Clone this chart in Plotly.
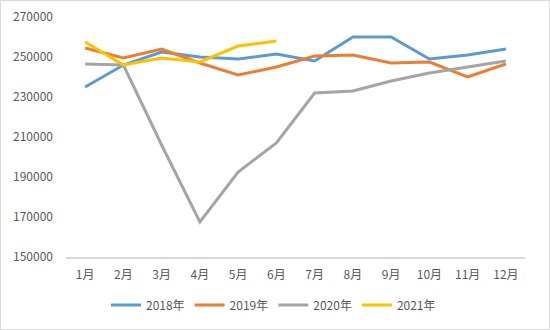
import plotly.graph_objects as go

months = ["1月", "2月", "3月", "4月", "5月", "6月", "7月", "8月", "9月", "10月", "11月", "12月"]
y2018 = [235000, 246000, 252500, 250000, 249000, 251500, 248000, 260000, 260000, 249000, 251000, 254000]
y2019 = [254500, 249500, 254000, 247000, 241000, 245000, 250500, 251000, 247000, 247500, 240000, 246500]
y2020 = [246500, 246000, 206000, 167500, 192500, 207000, 232000, 233000, 238000, 242000, 245000, 248000]
y2021 = [257500, 246000, 249500, 247500, 255500, 258000]
series_names = ["2018年", "2019年", "2020年", "2021年"]
colors = ["#5B9BD5", "#ED7D31", "#A5A5A5", "#FFC000"]
yticks = [150000, 170000, 190000, 210000, 230000, 250000, 270000]

fig = go.Figure()
for name, vals, c in zip(series_names, [y2018, y2019, y2020, y2021], colors):
    fig.add_trace(go.Scatter(x=months[:len(vals)], y=vals, name=name, mode="lines",
                             line=dict(color=c, width=3)))

font = dict(family="Noto Sans CJK SC, DejaVu Sans", size=12, color="#595959")
fig.update_layout(
    width=550, height=330,
    margin=dict(l=66, r=25, t=17, b=73, autoexpand=False),
    paper_bgcolor="white", plot_bgcolor="white",
    font=font,
    showlegend=True,
    legend=dict(orientation="h", x=0.452, xanchor="center", y=-0.2, yanchor="middle",
                font=dict(family="Noto Sans CJK SC, DejaVu Sans", size=12, color="#595959"),
                itemwidth=30),
    xaxis=dict(categoryorder="array", categoryarray=months, range=[-0.5, 11.5],
               showgrid=False, showline=True, linecolor="#D9D9D9", linewidth=1.5,
               ticks="", ticklabelstandoff=6, zeroline=False),
    yaxis=dict(range=[150000, 270000], tickvals=yticks, ticktext=[str(v) for v in yticks],
               showgrid=False, showline=False, zeroline=False, ticks="",
               ticklabelstandoff=12),
    shapes=[dict(type="rect", xref="paper", yref="paper",
                 x0=-65.5/459, x1=1 + 24.5/459, y0=-72.5/240, y1=1 + 16.5/240,
                 line=dict(color="#D9D9D9", width=1), layer="below")],
)
fig.write_html("out.html")
